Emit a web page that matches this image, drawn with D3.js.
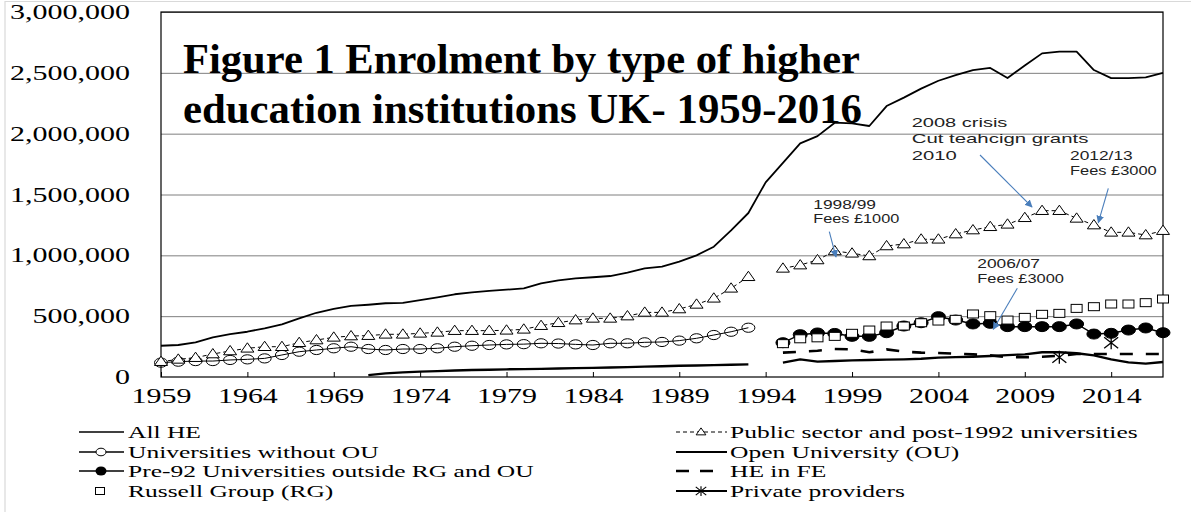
<!DOCTYPE html>
<html>
<head>
<meta charset="utf-8">
<script src="https://cdn.jsdelivr.net/npm/d3@7"></script>
<style>
  html, body { margin: 0; padding: 0; background: #fff; }
  svg { display: block; }
</style>
</head>
<body>
<script>
// ---------------- DATA ----------------
const years = [1959,1960,1961,1962,1963,1964,1965,1966,1967,1968,1969,1970,1971,1972,1973,1974,1975,1976,1977,1978,1979,
  1980,1981,1982,1983,1984,1985,1986,1987,1988,1989,1990,1991,1992,1993,1994,1995,1996,1997,1998,1999,
  2000,2001,2002,2003,2004,2005,2006,2007,2008,2009,2010,2011,2012,2013,2014,2015,2016,2017];

const tickYears = [1959,1964,1969,1974,1979,1984,1989,1994,1999,2004,2009,2014];
const yTicks = [0,500000,1000000,1500000,2000000,2500000,3000000];

const allHE = [257000,263000,285000,326000,353000,372000,400000,433000,482000,528000,559000,584000,594000,606000,610000,632000,655000,680000,695000,708000,718000,
  729000,770000,795000,811000,820000,830000,858000,893000,907000,948000,1000000,1071000,1205000,1348000,1600000,1760000,1920000,1980000,2090000,2085000,
  2063000,2227000,2296000,2370000,2435000,2482000,2523000,2540000,2457000,2560000,2660000,2674000,2674000,2523000,2457000,2457000,2463000,2500000];

const publicSector = [126000,145000,159000,189000,214000,236000,249000,249000,282000,304000,326000,337000,340000,351000,351000,359000,367000,381000,381000,381000,384000,
  392000,422000,446000,468000,482000,482000,501000,531000,531000,559000,597000,647000,729000,824000,null,893000,920000,962000,1036000,1017000,
  995000,1077000,1093000,1132000,1132000,1175000,1208000,1235000,1255000,1309000,1367000,1367000,1304000,1249000,1189000,1189000,1167000,1203000];

const univWithoutOU = [118000,126000,131000,131000,140000,145000,153000,181000,208000,222000,236000,249000,230000,222000,230000,230000,236000,249000,257000,263000,268000,
  270000,277000,275000,268000,263000,277000,277000,285000,288000,299000,318000,345000,372000,405000,null,null,null,null,null,null,
  null,null,null,null,null,null,null,null,null,null,null,null,null,null,null,null,null,null];

const openUniv = [null,null,null,null,null,null,null,null,null,null,null,null,15000,30000,38000,44000,48000,53000,57000,60000,63000,
  65000,67000,70000,73000,75000,78000,81000,85000,88000,92000,95000,98000,101000,104000,null,118000,145000,126000,132000,137000,
  140000,143000,145000,150000,159000,163000,167000,173000,180000,186000,203000,203000,195000,178000,145000,120000,110000,123000];

const heInFE = [null,null,null,null,null,null,null,null,null,null,null,null,null,null,null,null,null,null,null,null,null,
  null,null,null,null,null,null,null,null,null,null,null,null,null,null,null,200000,208000,216000,230000,227000,
  203000,227000,208000,200000,197000,192000,186000,178000,162000,162000,167000,175000,189000,189000,189000,189000,189000,189000];

const pre92 = [null,null,null,null,null,null,null,null,null,null,null,null,null,null,null,null,null,null,null,null,null,
  null,null,null,null,null,null,null,null,null,null,null,null,null,null,null,282000,348000,362000,358000,334000,
  334000,364000,419000,446000,496000,468000,436000,441000,414000,414000,414000,414000,436000,353000,359000,386000,403000,364000];

const russell = [null,null,null,null,null,null,null,null,null,null,null,null,null,null,null,null,null,null,null,null,null,
  null,null,null,null,null,null,null,null,null,null,null,null,null,null,null,274000,314000,322000,334000,359000,
  386000,419000,419000,446000,460000,474000,518000,504000,468000,490000,515000,523000,564000,578000,600000,600000,611000,641000];

const privateProv = [null,null,null,null,null,null,null,null,null,null,null,null,null,null,null,null,null,null,null,null,null,
  null,null,null,null,null,null,null,null,null,null,null,null,null,null,null,null,null,null,null,null,
  null,null,null,null,null,null,null,null,null,null,null,162000,null,null,282000,null,null,null];

const titleLines = ["Figure 1 Enrolment by type of higher", "education institutions UK- 1959-2016"];

const legendLeft = ["All HE","Universities without OU","Pre-92 Universities outside RG and OU","Russell Group (RG)"];
const legendRight = ["Public sector and post-1992 universities","Open University (OU)","HE in FE","Private providers"];

const annotations = [
  {lines:["2008 crisis","Cut teahcign grants","2010"], year:2010, value:1367000},
  {lines:["2012/13","Fees £3000"], year:2013, value:1249000},
  {lines:["1998/99","Fees £1000"], year:1998, value:1036000},
  {lines:["2006/07","Fees £3000"], year:2007, value:441000}
];

// ---------------- LAYOUT ----------------
const W = 1191, H = 512;
const L = 161, R = 1163, T = 12, B = 377;
const SX = 1.5; // horizontal stretch of the original text
const serif = "'Liberation Serif','Times New Roman',serif";
const sans = "'Liberation Sans',Arial,sans-serif";

const svg = d3.select("body").append("svg").attr("width", W).attr("height", H)
  .style("font-family", serif);
svg.append("rect").attr("width", W).attr("height", H).attr("fill", "#fff");

// outer light frame
svg.append("path").attr("d", `M5,512 L5,1.5 L1191,1.5`).attr("fill","none").attr("stroke","#d9d9d9").attr("stroke-width",1.2);

const x = d3.scalePoint().domain(years).range([L, R]);
const y = d3.scaleLinear().domain([0, 3000000]).range([B, T]);

// gridlines
svg.append("g").attr("transform", `translate(${L},0)`)
  .call(d3.axisLeft(y).tickValues(yTicks.slice(1)).tickSize(-(R - L)).tickFormat(""))
  .call(g => g.select(".domain").remove())
  .call(g => g.selectAll("line").attr("stroke", "#7f7f7f").attr("stroke-width", 1));

// y axis labels
svg.append("g").attr("transform", `translate(${L},0)`)
  .call(d3.axisLeft(y).tickValues(yTicks).tickSize(0).tickFormat(d3.format(",")))
  .call(g => g.select(".domain").remove())
  .call(g => g.selectAll("line").remove())
  .call(g => g.selectAll("text")
     .attr("x", -31 / SX).attr("dy", "0.33em")
     .attr("transform", `scale(${SX},1)`)
     .attr("font-family", serif).attr("font-size", 20).attr("fill", "#000"));

// x axis
svg.append("g").attr("transform", `translate(0,${B})`)
  .call(d3.axisBottom(x).tickValues(tickYears).tickSize(-5).tickSizeOuter(0))
  .call(g => g.select(".domain").remove())
  .call(g => g.selectAll("line").attr("stroke", "#000"))
  .call(g => g.selectAll("text")
     .attr("y", 26).attr("dy", null)
     .attr("transform", `scale(${SX},1)`)
     .attr("font-family", serif).attr("font-size", 20).attr("fill", "#000"));

// plot frame
svg.append("rect").attr("x", L).attr("y", T).attr("width", R - L).attr("height", B - T)
  .attr("fill", "none").attr("stroke", "#000").attr("stroke-width", 1.2);

// title
titleLines.forEach((t, i) => {
  svg.append("text").attr("x", 183).attr("y", 73 + i * 50)
    .attr("font-family", serif).attr("font-weight", "bold").attr("font-size", 42)
    .attr("textLength", i === 0 ? 677 : 679).attr("lengthAdjust", "spacingAndGlyphs")
    .text(t);
});

// ---------------- SERIES ----------------
const pts = arr => years.map((yr, i) => ({yr, v: arr[i]})).filter(d => d.v != null);
const line = d3.line().defined(d => d.v != null).x(d => x(d.yr)).y(d => y(d.v));
const seq = arr => years.map((yr, i) => ({yr, v: arr[i]}));

const plot = svg.append("g");

// All HE
plot.append("path").datum(seq(allHE)).attr("d", line)
  .attr("fill", "none").attr("stroke", "#000").attr("stroke-width", 1.8).attr("stroke-linejoin", "round");

// Universities without OU
plot.append("path").datum(seq(univWithoutOU)).attr("d", line)
  .attr("fill", "none").attr("stroke", "#000").attr("stroke-width", 1);
plot.selectAll(".uc").data(pts(univWithoutOU)).join("ellipse").attr("class", "uc")
  .attr("cx", d => x(d.yr)).attr("cy", d => y(d.v)).attr("rx", 6.5).attr("ry", 4.6)
  .attr("fill", "none").attr("stroke", "#000").attr("stroke-width", 1);

// Public sector
plot.append("path").datum(seq(publicSector)).attr("d", line)
  .attr("fill", "none").attr("stroke", "#000").attr("stroke-width", 1).attr("stroke-dasharray", "4,3");
const triPath = "M0,-5.5 L6.5,3.8 L-6.5,3.8 Z";
plot.selectAll(".tri").data(pts(publicSector)).join("path").attr("class", "tri")
  .attr("transform", d => `translate(${x(d.yr)},${y(d.v)})`).attr("d", triPath)
  .attr("fill", "#fff").attr("stroke", "#000").attr("stroke-width", 1);

// Open University
plot.append("path").datum(seq(openUniv)).attr("d", line)
  .attr("fill", "none").attr("stroke", "#000").attr("stroke-width", 2.4).attr("stroke-linejoin", "round");

// HE in FE
plot.append("path").datum(seq(heInFE)).attr("d", line)
  .attr("fill", "none").attr("stroke", "#000").attr("stroke-width", 2.6).attr("stroke-dasharray", "13,13");

// Pre-92
plot.append("path").datum(seq(pre92)).attr("d", line)
  .attr("fill", "none").attr("stroke", "#000").attr("stroke-width", 1.5);
plot.selectAll(".pc").data(pts(pre92)).join("ellipse").attr("class", "pc")
  .attr("cx", d => x(d.yr)).attr("cy", d => y(d.v)).attr("rx", 7).attr("ry", 5)
  .attr("fill", "#000").attr("stroke", "#000");

// Russell Group
plot.selectAll(".sq").data(pts(russell)).join("rect").attr("class", "sq")
  .attr("x", d => x(d.yr) - 5.5).attr("y", d => y(d.v) - 4).attr("width", 11).attr("height", 8)
  .attr("fill", "#fff").attr("stroke", "#000").attr("stroke-width", 1);

// Private providers
const starPath = "M-7,-5.5 L7,5.5 M-7,5.5 L7,-5.5 M0,-6.5 L0,6.5";
plot.selectAll(".st").data(pts(privateProv)).join("path").attr("class", "st")
  .attr("transform", d => `translate(${x(d.yr)},${y(d.v)})`).attr("d", starPath)
  .attr("fill", "none").attr("stroke", "#000").attr("stroke-width", 1.3);

// ---------------- ANNOTATIONS ----------------
const blue = "#4a7ebb";
svg.append("defs").append("marker").attr("id", "ah").attr("viewBox", "0 0 10 10")
  .attr("refX", 9).attr("refY", 5).attr("markerWidth", 7).attr("markerHeight", 7).attr("orient", "auto")
  .append("path").attr("d", "M0,0 L10,5 L0,10 Z").attr("fill", blue);

const annoLayout = [
  {x: 911.7, y0: 127, dy: 16.3, widths: [95.7, 176.7, 45], from: [980, 155], to: [1032, 207]},
  {x: 1070, y0: 160, dy: 14.5, widths: [62.7, 86.7], from: [1108.3, 188.3], to: [1098.3, 222.7]},
  {x: 813.3, y0: 209, dy: 13.8, widths: [62.7, 86], from: [829.3, 231.7], to: [836, 257]},
  {x: 977.3, y0: 268, dy: 14.5, widths: [62.7, 86.7], from: [1017.3, 288.3], to: [993.3, 329.3]}
];
annotations.forEach((a, k) => {
  const lay = annoLayout[k];
  a.lines.forEach((t, i) => {
    svg.append("text").attr("x", lay.x).attr("y", lay.y0 + i * lay.dy)
      .attr("font-family", sans).attr("font-size", 13.5).attr("fill", "#222")
      .attr("textLength", lay.widths[i]).attr("lengthAdjust", "spacingAndGlyphs")
      .text(t);
  });
  svg.append("line").attr("x1", lay.from[0]).attr("y1", lay.from[1]).attr("x2", lay.to[0]).attr("y2", lay.to[1])
    .attr("stroke", blue).attr("stroke-width", 1.1).attr("marker-end", "url(#ah)");
});

// ---------------- LEGEND ----------------
const rowY = [432, 452, 471, 491];
const leg = svg.append("g");
function legText(xp, yp, t) {
  leg.append("text").attr("transform", `translate(${xp},${yp + 5.5}) scale(${SX},1)`)
    .attr("font-family", serif).attr("font-size", 17).attr("fill", "#000").text(t);
}
// left column
const lx0 = 79, lx1 = 124, ltx = 128;
legendLeft.forEach((t, i) => legText(ltx, rowY[i], t));
leg.append("line").attr("x1", lx0).attr("x2", lx1).attr("y1", rowY[0]).attr("y2", rowY[0]).attr("stroke", "#000").attr("stroke-width", 1.5);
leg.append("line").attr("x1", lx0).attr("x2", lx1).attr("y1", rowY[1]).attr("y2", rowY[1]).attr("stroke", "#000").attr("stroke-width", 1.5);
leg.append("ellipse").attr("cx", 101).attr("cy", rowY[1]).attr("rx", 5).attr("ry", 3.8).attr("fill", "#fff").attr("stroke", "#000");
leg.append("line").attr("x1", lx0).attr("x2", lx1).attr("y1", rowY[2]).attr("y2", rowY[2]).attr("stroke", "#000").attr("stroke-width", 1.5);
leg.append("ellipse").attr("cx", 101).attr("cy", rowY[2]).attr("rx", 5.5).attr("ry", 4.5).attr("fill", "#000");
leg.append("rect").attr("x", 95.5).attr("y", rowY[3] - 3.5).attr("width", 9).attr("height", 7).attr("fill", "#fff").attr("stroke", "#000");

// right column
const rx0 = 676, rx1 = 727, rtx = 730;
legendRight.forEach((t, i) => legText(rtx, rowY[i], t));
leg.append("line").attr("x1", rx0).attr("x2", rx1).attr("y1", rowY[0]).attr("y2", rowY[0]).attr("stroke", "#000").attr("stroke-dasharray", "4,3");
leg.append("path").attr("transform", `translate(701,${rowY[0]}) scale(0.75)`).attr("d", triPath).attr("fill", "#fff").attr("stroke", "#000").attr("stroke-width", 1.3);
leg.append("line").attr("x1", rx0).attr("x2", rx1).attr("y1", rowY[1]).attr("y2", rowY[1]).attr("stroke", "#000").attr("stroke-width", 2.2);
leg.append("line").attr("x1", rx0).attr("x2", 716).attr("y1", rowY[2]).attr("y2", rowY[2]).attr("stroke", "#000").attr("stroke-width", 2.6).attr("stroke-dasharray", "13,11");
leg.append("line").attr("x1", rx0).attr("x2", rx1).attr("y1", rowY[3]).attr("y2", rowY[3]).attr("stroke", "#000").attr("stroke-width", 2);
leg.append("path").attr("transform", `translate(701,${rowY[3]}) scale(0.75)`).attr("d", starPath).attr("fill", "none").attr("stroke", "#000").attr("stroke-width", 1.5);
</script>
</body>
</html>
